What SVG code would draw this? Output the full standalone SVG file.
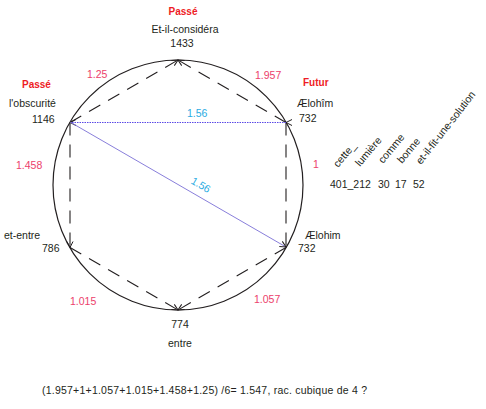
<svg xmlns="http://www.w3.org/2000/svg" width="486" height="409" viewBox="0 0 486 409">
<style>
text{font-family:"Liberation Sans",Arial,sans-serif;font-size:10.5px;fill:#231f20}
.red{fill:#ee1c25;font-weight:bold;font-size:10px}
.pink{fill:#ec3e6b}
.blue{fill:#29abe2}
.mid{text-anchor:middle}
.hex{stroke:#231f20;stroke-width:1.1;stroke-dasharray:13 9;fill:none}
.link{stroke:#7a6fd6;stroke-width:0.9;fill:none}
</style>
<defs>
<marker id="arr" viewBox="0 0 8 8" refX="7" refY="4" markerWidth="8" markerHeight="8" markerUnits="userSpaceOnUse" orient="auto">
<path d="M1,1 L7,4 L1,7" fill="none" stroke="#231f20" stroke-width="1"/>
</marker>
</defs>
<g id="circle"><circle cx="178" cy="185" r="125" fill="none" stroke="#231f20" stroke-width="1.2"/></g>
<g id="connectors">
<line class="hex" x1="70" y1="122.5" x2="178" y2="60" marker-end="url(#arr)"/>
<line class="hex" x1="286" y1="122.5" x2="178" y2="60" marker-end="url(#arr)"/>
<line class="hex" x1="286" y1="122.5" x2="286" y2="247.5"/>
<line class="hex" x1="286" y1="247.5" x2="178" y2="310" marker-end="url(#arr)"/>
<line class="hex" x1="70" y1="247.5" x2="178" y2="310" marker-end="url(#arr)"/>
<line class="hex" x1="70" y1="122.5" x2="70" y2="247.5" marker-end="url(#arr)"/>
<line x1="286" y1="122.5" x2="70" y2="122.5" stroke="#5a48e6" stroke-width="1.2" stroke-dasharray="1.5 1" fill="none" marker-end="url(#arr)" marker-start="url(#arr)"/>
<line class="link" x1="70" y1="122" x2="286" y2="247" marker-end="url(#arr)"/>
<text class="blue" x="187" y="117">1.56</text>
<text class="blue" transform="translate(199,188) rotate(30)" text-anchor="middle">1.56</text>
<text class="pink" x="87" y="78">1.25</text>
<text class="pink" x="255" y="79">1.957</text>
<text class="pink" x="16" y="169">1.458</text>
<text class="pink" x="313" y="168">1</text>
<text class="pink" x="70" y="305">1.015</text>
<text class="pink" x="254" y="303">1.057</text>
</g>
<g id="node-top">
<text class="red mid" x="183" y="15">Passé</text>
<text class="mid" x="185" y="33">Et-il-considéra</text>
<text class="mid" x="182" y="47">1433</text>
</g>
<g id="node-upper-left">
<text class="red" x="22" y="88">Passé</text>
<text x="9" y="107">l'obscurité</text>
<text x="32" y="123">1146</text>
</g>
<g id="node-upper-right">
<text class="red" x="303" y="86">Futur</text>
<text x="297" y="107">Ælohîm</text>
<text x="299" y="122">732</text>
</g>
<g id="node-lower-left">
<text x="4" y="239">et-entre</text>
<text x="42" y="252">786</text>
</g>
<g id="node-lower-right">
<text x="305" y="239">Ælohim</text>
<text x="298" y="252">732</text>
</g>
<g id="node-bottom">
<text class="mid" x="180" y="328">774</text>
<text class="mid" x="180" y="347">entre</text>
</g>
<g id="words">
<text transform="translate(338,168) rotate(-50)">cette_</text>
<text transform="translate(360,167) rotate(-50)">lumière</text>
<text transform="translate(383,164) rotate(-50)">comme</text>
<text transform="translate(402,164) rotate(-50)">bonne</text>
<text transform="translate(421,165) rotate(-52)">et-il-fit-une-solution</text>
<text x="330" y="188">401_212</text>
<text x="378" y="188">30</text>
<text x="395" y="188">17</text>
<text x="413" y="188">52</text>
</g>
<g id="formula">
<text x="42" y="394" textLength="325">(1.957+1+1.057+1.015+1.458+1.25) /6= 1.547, rac. cubique de 4 ?</text>
</g>
</svg>
